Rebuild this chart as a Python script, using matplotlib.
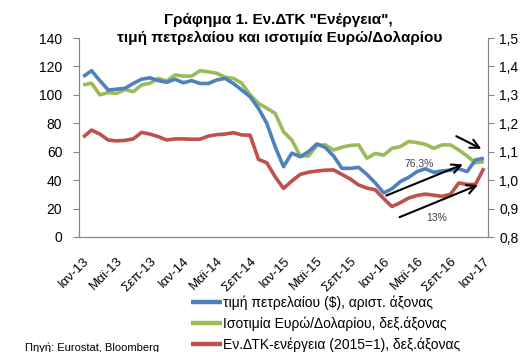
import matplotlib
matplotlib.use("Agg")
import matplotlib.pyplot as plt
from matplotlib.ticker import FuncFormatter, MultipleLocator

plt.rcParams['font.family'] = ['Liberation Sans', 'DejaVu Sans']

months = list(range(49))
tick_pos = list(range(0, 49, 4))
tick_labels = ['Ιαν-13', 'Μαϊ-13', 'Σεπ-13', 'Ιαν-14', 'Μαϊ-14', 'Σεπ-14', 'Ιαν-15',
               'Μαϊ-15', 'Σεπ-15', 'Ιαν-16', 'Μαϊ-16', 'Σεπ-16', 'Ιαν-17']

oil_price = [112.8, 117.0, 110.0, 103.4, 104.0, 104.6, 108.0, 111.0, 112.0, 110.0,
             108.8, 111.0, 108.5, 110.0, 108.0, 108.0, 110.5, 111.6, 108.0, 103.4,
             98.7, 90.5, 80.0, 63.5, 49.5, 59.0, 56.5, 60.0, 65.5, 63.0,
             57.0, 48.3, 48.3, 49.0, 44.0, 38.0, 31.0, 34.0, 39.0, 42.0,
             46.0, 48.0, 45.5, 46.5, 47.0, 48.0, 46.0, 54.2, 55.4]

eur_usd = [1.335, 1.341, 1.300, 1.308, 1.305, 1.319, 1.311, 1.335, 1.341, 1.358,
           1.349, 1.370, 1.366, 1.366, 1.385, 1.381, 1.376, 1.362, 1.358, 1.341,
           1.300, 1.270, 1.253, 1.235, 1.170, 1.141, 1.085, 1.085, 1.122, 1.124,
           1.106, 1.116, 1.122, 1.124, 1.077, 1.094, 1.088, 1.112, 1.118, 1.136,
           1.132, 1.126, 1.112, 1.124, 1.124, 1.106, 1.085, 1.061, 1.065]

hicp_energy = [1.151, 1.176, 1.162, 1.141, 1.138, 1.140, 1.145, 1.168, 1.162, 1.153,
               1.141, 1.145, 1.145, 1.144, 1.144, 1.155, 1.160, 1.162, 1.167, 1.159,
               1.158, 1.073, 1.061, 1.012, 0.971, 0.997, 1.020, 1.028, 1.032, 1.035,
               1.036, 1.020, 1.004, 0.983, 0.972, 0.966, 0.935, 0.907, 0.921, 0.937,
               0.946, 0.951, 0.947, 0.943, 0.950, 0.990, 0.985, 0.985, 1.042]

legend_labels = ['τιμή πετρελαίου ($), αριστ. άξονας',
                 'Ισοτιμία Ευρώ/Δολαρίου, δεξ.άξονας',
                 'Εν.ΔΤΚ-ενέργεια (2015=1), δεξ.άξονας']

BLUE = '#4F81BD'
GREEN = '#9BBB59'
RED = '#C0504D'
AXC = '#868686'

W, H = 531, 352
fig = plt.figure(figsize=(W / 100, H / 100), dpi=100)
ax = fig.add_axes([79 / W, 1 - 237 / H, (488 - 79) / W, (237 - 38) / H])
ax2 = ax.twinx()

lw = 2.6
l2, = ax2.plot(months, eur_usd, color=GREEN, lw=lw, solid_capstyle='butt', zorder=2)
l3, = ax2.plot(months, hicp_energy, color=RED, lw=lw, solid_capstyle='butt', zorder=2)
ax.set_zorder(ax2.get_zorder() + 1)
ax.patch.set_visible(False)
l1, = ax.plot(months, oil_price, color=BLUE, lw=lw, solid_capstyle='butt', zorder=3)

ax.set_xlim(-0.5, 48.5)
ax.set_ylim(0, 140)
ax2.set_ylim(0.8, 1.5)
ax.yaxis.set_major_locator(MultipleLocator(20))
ax2.yaxis.set_major_locator(MultipleLocator(0.1))
ax2.yaxis.set_major_formatter(FuncFormatter(lambda v, p: f"{v:.1f}".replace('.', ',')))

ax.set_xticks(tick_pos)
ax.set_xticklabels(tick_labels, rotation=45, ha='right', va='top', rotation_mode='anchor')
ax.tick_params(axis='x', length=0, pad=13, labelsize=9.5)
ax.tick_params(axis='y', length=4, width=0.8, color=AXC, pad=8, labelsize=10)
ax2.tick_params(axis='y', length=4, width=0.8, color=AXC, pad=4, labelsize=10)

for a in (ax, ax2):
    a.spines['top'].set_visible(False)
    for s in ('left', 'right', 'bottom'):
        a.spines[s].set_color(AXC)
        a.spines[s].set_linewidth(0.8)

# annotations (arrows and percentages)
arrow_kw = dict(arrowstyle='->', color='black', lw=1.5, mutation_scale=16)
ax.annotate('', xy=(48.0, 61.2), xytext=(44.4, 71.8), arrowprops=arrow_kw, zorder=5)
ax.annotate('', xy=(45.8, 51.8), xytext=(36.0, 28.4), arrowprops=arrow_kw, zorder=5)
ax.annotate('', xy=(47.6, 37.3), xytext=(37.6, 13.2), arrowprops=arrow_kw, zorder=5)
ax.text(40.2, 51.8, '76,3%', fontsize=7.5, ha='center', va='center', color='#404040', zorder=4)
ax.text(42.4, 13.2, '13%', fontsize=7.5, ha='center', va='center', color='#404040', zorder=4)

fig.text(278 / W, 1 - 20 / H, 'Γράφημα 1. Εν.ΔΤΚ "Ενέργεια",', fontsize=11,
         fontweight='bold', ha='center', va='center')
fig.text(280 / W, 1 - 38 / H, 'τιμή πετρελαίου και ισοτιμία Ευρώ/Δολαρίου', fontsize=11,
         fontweight='bold', ha='center', va='center')

fig.legend([l1, l2, l3], legend_labels, loc='upper left',
           bbox_to_anchor=(191 / W, 1 - 295 / H), frameon=False, fontsize=10,
           handlelength=2.2, handletextpad=0.1, labelspacing=0.48,
           borderpad=0, borderaxespad=0)
for h in fig.legends[0].get_lines():
    h.set_linewidth(3.2)

fig.text(25 / W, 1 - 348 / H, 'Πηγή: Eurostat, Bloomberg', fontsize=8, ha='left', va='center')

fig.savefig('out.png', dpi=100)
